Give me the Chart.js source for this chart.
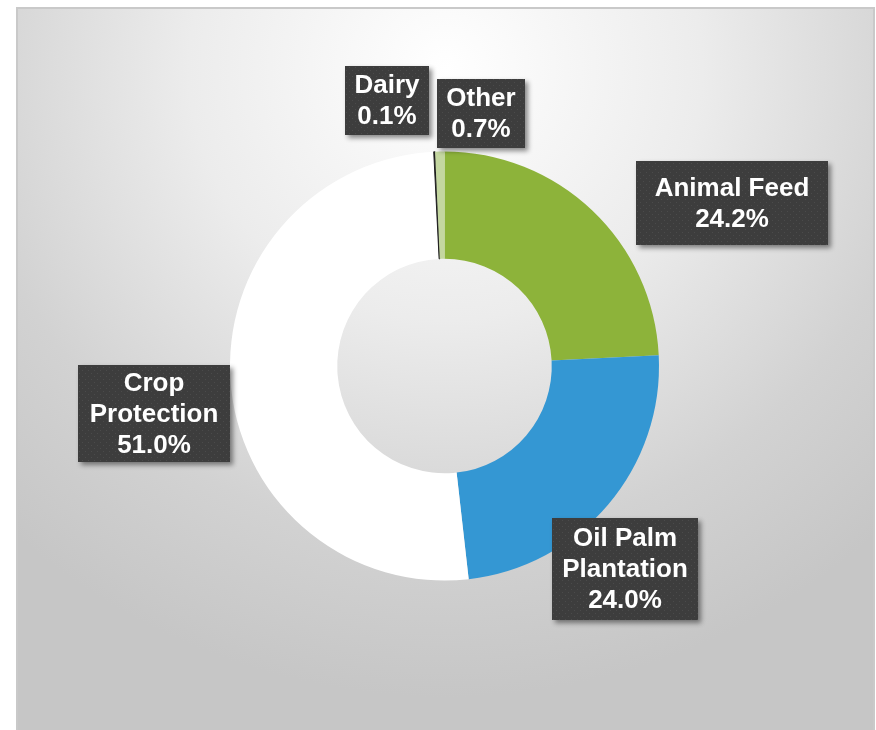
<!DOCTYPE html>
<html>
<head>
<meta charset="utf-8">
<script src="https://cdn.jsdelivr.net/npm/chart.js@4.4.1/dist/chart.umd.min.js"></script>
<style>
  html, body { margin: 0; padding: 0; background: #fff; overflow: hidden; }
  .frame {
    position: absolute; left: 16px; top: 7px; width: 855px; height: 740px;
    border: 2px solid #c9c9c9;
    background: radial-gradient(ellipse 75% 85% at 50% 8%, #ffffff 0%, #ececec 40%, #d2d2d2 75%, #c6c6c6 100%);
  }
  #wrap { position: absolute; left: 0; top: 0; width: 876px; height: 730px; }
</style>
</head>
<body>
<div class="frame"></div>
<div id="wrap"><canvas id="donut" width="876" height="730"></canvas></div>
<script>
const categories = ['Animal Feed', 'Oil Palm Plantation', 'Crop Protection', 'Dairy', 'Other'];
const shares = [24.2, 24.0, 51.0, 0.1, 0.7];
const labelLines = [['Animal Feed'], ['Oil Palm', 'Plantation'], ['Crop', 'Protection'], ['Dairy'], ['Other']];
const sliceColors = ['#8db33a', '#3497d3', '#ffffff', '#1e1e1e', '#c4d7a0'];

// callout boxes: left, top, right, bottom
const boxes = [[636, 161, 828, 245], [552, 518, 698, 620], [78, 365, 230, 462], [345, 66, 429, 135], [437, 79, 525, 148]];

function dotPattern(ctx) {
    const c = document.createElement('canvas');
    c.width = 6; c.height = 6;
    const p = c.getContext('2d');
    p.fillStyle = '#3d3d3d';
    p.fillRect(0, 0, 6, 6);
    p.fillStyle = '#4b4b4b';
    p.fillRect(1, 1, 1, 1);
    p.fillRect(4, 4, 1, 1);
    return ctx.createPattern(c, 'repeat');
}

const callouts = {
    id: 'callouts',
    afterDraw(chart) {
        const ctx = chart.ctx;
        const pat = dotPattern(ctx);
        boxes.forEach((b, i) => {
            const [x0, y0, x1, y1] = b;
            ctx.save();
            ctx.shadowColor = 'rgba(0,0,0,0.45)';
            ctx.shadowBlur = 5;
            ctx.shadowOffsetX = 3;
            ctx.shadowOffsetY = 3;
            ctx.fillStyle = pat;
            ctx.fillRect(x0, y0, x1 - x0, y1 - y0);
            ctx.restore();

            const lines = labelLines[i].concat([shares[i].toFixed(1) + '%']);
            const lh = 31;
            const cy = (y0 + y1) / 2 - (lines.length - 1) * lh / 2;
            ctx.save();
            ctx.fillStyle = '#ffffff';
            ctx.font = 'bold 26px "Liberation Sans", Arial, sans-serif';
            ctx.textAlign = 'center';
            ctx.textBaseline = 'middle';
            lines.forEach((t, k) => ctx.fillText(t, (x0 + x1) / 2, cy + k * lh + 1));
            ctx.restore();
        });
    }
};

new Chart(document.getElementById('donut'), {
    type: 'doughnut',
    data: {
        labels: categories,
        datasets: [{
            data: shares,
            backgroundColor: sliceColors,
            borderColor: ['#8db33a', '#3497d3', '#ffffff', '#1e1e1e', '#c4d7a0'],
            borderWidth: [0, 0, 0, 1, 0]
        }]
    },
    options: {
        responsive: false,
        animation: false,
        cutout: '50%',
        layout: { padding: { left: 229, right: 216, top: 151, bottom: 149 } },
        plugins: {
            legend: { display: false },
            tooltip: { enabled: false }
        }
    },
    plugins: [callouts]
});
</script>
</body>
</html>
